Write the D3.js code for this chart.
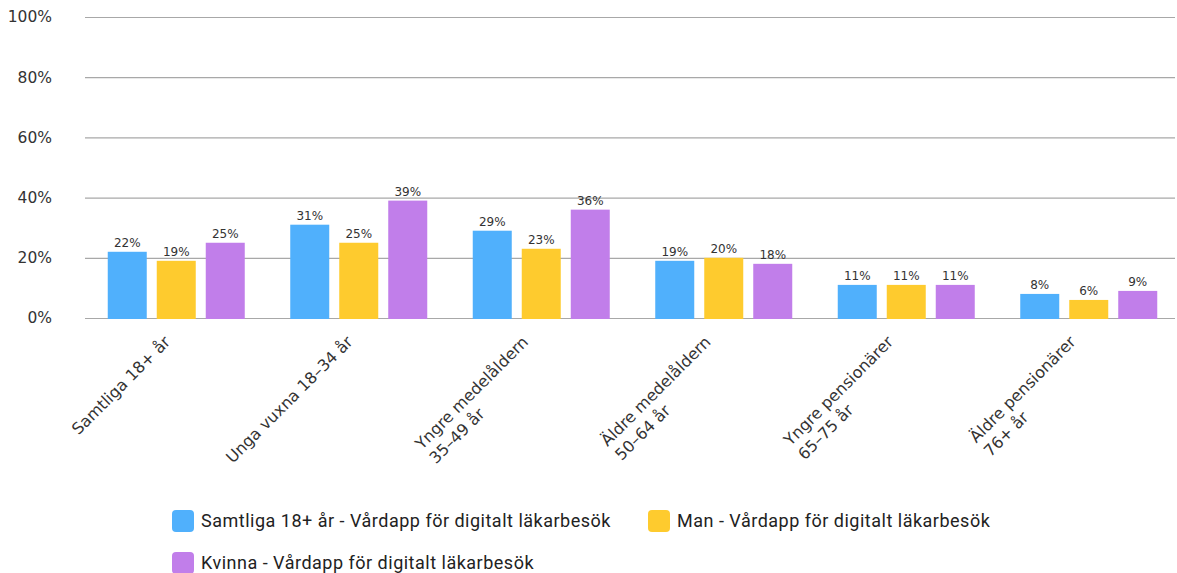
<!DOCTYPE html>
<html>
<head>
<meta charset="utf-8">
<script src="https://cdn.jsdelivr.net/npm/d3@7"></script>
<style>
  body { margin: 0; background: #fff; }
  svg { display: block; }
</style>
</head>
<body>
<div id="chart"></div>
<script>
// categories (each entry is the label lines)
const categories = [
  ["Samtliga 18+ år"],
  ["Unga vuxna 18–34 år"],
  ["Yngre medelåldern", "35–49 år"],
  ["Äldre medelåldern", "50–64 år"],
  ["Yngre pensionärer", "65–75 år"],
  ["Äldre pensionärer", "76+ år"]
];
const seriesNames = [
  "Samtliga 18+ år - Vårdapp för digitalt läkarbesök",
  "Man - Vårdapp för digitalt läkarbesök",
  "Kvinna - Vårdapp för digitalt läkarbesök"
];
const samtliga = [22, 31, 29, 19, 11, 8];
const man = [19, 25, 23, 20, 11, 6];
const kvinna = [25, 39, 36, 18, 11, 9];
const yTicks = [0, 20, 40, 60, 80, 100];
const colors = ["#50b0fc", "#fecb2e", "#c17eea"];

const width = 1177;
const height = 573;
const series = [samtliga, man, kvinna];
const axisFont = "'DejaVu Sans', sans-serif";

const svg = d3.select("#chart")
  .append("svg")
  .attr("width", width)
  .attr("height", height);

const x = d3.scaleBand()
  .domain(d3.range(categories.length))
  .range([85, 1180]);

const y = d3.scaleLinear().domain([0, 100]).range([318, 17]);

// three bars per group
const barW = 39, barGap = 10;
const groupW = barW * 3 + barGap * 2;

// gridlines
svg.append("g")
  .selectAll("line")
  .data(yTicks)
  .enter()
  .append("line")
  .attr("x1", 85)
  .attr("x2", 1175)
  .attr("y1", (d) => y(d) + 0.5)
  .attr("y2", (d) => y(d) + 0.5)
  .attr("stroke", "#a8a8a8")
  .attr("stroke-width", 1.2);

// y labels
svg.append("g")
  .selectAll("text")
  .data(yTicks)
  .enter()
  .append("text")
  .attr("x", 52)
  .attr("y", (d) => y(d))
  .attr("dy", "0.35em")
  .attr("text-anchor", "end")
  .attr("font-family", axisFont)
  .attr("font-size", 15.5)
  .attr("fill", "#333")
  .text((d) => d + "%");

// bars
series.forEach(function (vals, s) {
  const g = svg.append("g");
  const bx = (i) => x(i) + x.bandwidth() / 2 - groupW / 2 + s * (barW + barGap);
  g.selectAll("rect")
    .data(vals)
    .enter()
    .append("rect")
    .attr("x", (d, i) => bx(i))
    .attr("y", (d) => y(d))
    .attr("width", barW)
    .attr("height", (d) => y(0) - y(d) + 1)
    .attr("fill", colors[s]);

  g.selectAll("text")
    .data(vals)
    .enter()
    .append("text")
    .attr("x", (d, i) => bx(i) + barW / 2)
    .attr("y", (d) => y(d) - 5)
    .attr("text-anchor", "middle")
    .attr("font-family", axisFont)
    .attr("font-size", 12)
    .attr("fill", "#333")
    .text((d) => d + "%");
});

// x labels, rotated -45
const lh = 20;
const xl = svg.append("g")
  .selectAll("g")
  .data(categories)
  .enter()
  .append("g")
  .attr("transform", function (d, i) {
    const cx = x(i) + x.bandwidth() / 2;
    const off = (d.length - 1) * 7;
    return "translate(" + (cx - 9 - off) + "," + 339 + ") rotate(-45)";
  });

xl.each(function (lines) {
  const g = d3.select(this);
  const first = g.append("text")
    .attr("text-anchor", "end")
    .attr("dy", "0.35em")
    .attr("font-family", axisFont)
    .attr("font-size", 16)
    .attr("fill", "#333")
    .text(lines[0]);
  const w = first.node().getComputedTextLength();
  lines.slice(1).forEach(function (t, k) {
    g.append("text")
      .attr("x", -w)
      .attr("y", (k + 1) * lh)
      .attr("dy", "0.35em")
      .attr("font-family", axisFont)
      .attr("font-size", 16)
      .attr("fill", "#333")
      .text(t);
  });
});

// legend
const legendPos = [[172, 521], [648, 521], [172, 563]];
const legend = svg.append("g")
  .selectAll("g")
  .data(seriesNames)
  .enter()
  .append("g")
  .attr("transform", (d, i) => "translate(" + legendPos[i][0] + "," + legendPos[i][1] + ")");

legend.append("rect")
  .attr("x", 0)
  .attr("y", -11)
  .attr("width", 22)
  .attr("height", 22)
  .attr("rx", 4)
  .attr("fill", (d, i) => colors[i]);

legend.append("text")
  .attr("x", 29)
  .attr("dy", "0.35em")
  .attr("font-family", "Roboto, sans-serif")
  .attr("font-size", 18)
  .attr("letter-spacing", 0.5)
  .attr("fill", "#222")
  .text((d) => d);
</script>
</body>
</html>
